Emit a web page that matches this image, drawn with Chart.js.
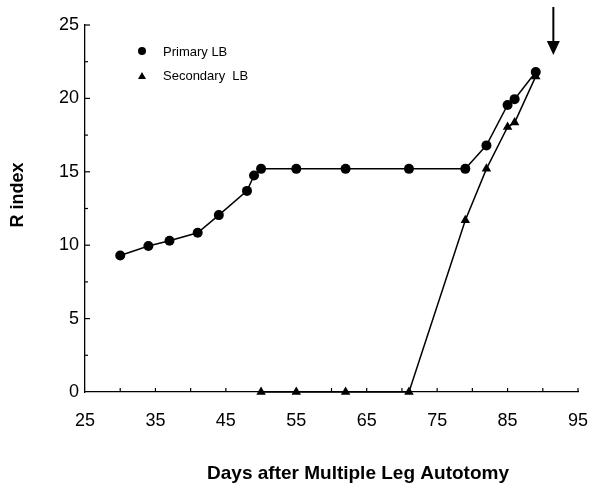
<!DOCTYPE html>
<html>
<head>
<meta charset="utf-8">
<script src="https://cdn.jsdelivr.net/npm/chart.js@4"></script>
<style>
    html, body { margin: 0; padding: 0; background: #fff; }
    #wrap { width: 593px; height: 486px; }
</style>
</head>
<body>
<div id="wrap"><canvas id="chart" width="593" height="486"></canvas></div>
<script>
// Data
const primaryDays = [30, 34, 37, 41, 44, 48, 49, 50, 55, 62, 71, 79, 82, 85, 86, 89];
const primaryR = [9.3, 9.95, 10.3, 10.85, 12.05, 13.7, 14.75, 15.2, 15.2, 15.2, 15.2, 15.2, 16.8, 19.55, 19.95, 21.8];
const secondaryDays = [50, 55, 62, 71, 79, 82, 85, 86, 89];
const secondaryR = [0, 0, 0, 0, 11.7, 15.2, 18.05, 18.35, 21.5];
const seriesNames = ['Primary LB', 'Secondary  LB'];
const xTicks = [25, 35, 45, 55, 65, 75, 85, 95];
const yTicks = [0, 5, 10, 15, 20, 25];
const arrowDay = 91.5;

const toPoints = (xs, ys) => xs.map((x, i) => ({ x: x, y: ys[i] }));

// Inward tick marks, legend, arrow and axis titles
const extras = {
    id: 'extras',
    afterDraw(chart) {
        const ctx = chart.ctx;
        const xs = chart.scales.x;
        const ys = chart.scales.y;
        const area = chart.chartArea;
        ctx.save();
        ctx.strokeStyle = '#000';
        ctx.lineWidth = 1.2;

        // x ticks point up into the plot
        xs.ticks.forEach(t => {
            if (t.value === xs.min) return;
            const px = xs.getPixelForValue(t.value);
            ctx.beginPath();
            ctx.moveTo(px, area.bottom);
            ctx.lineTo(px, area.bottom - 4);
            ctx.stroke();
        });
        // y ticks point right, minor ones shorter
        ys.ticks.forEach(t => {
            if (t.value === ys.min) return;
            const py = ys.getPixelForValue(t.value);
            const len = yTicks.includes(t.value) ? 5 : 3;
            ctx.beginPath();
            ctx.moveTo(area.left, py);
            ctx.lineTo(area.left + len, py);
            ctx.stroke();
        });

        // legend
        ctx.fillStyle = '#000';
        ctx.font = '13px "Liberation Sans", Arial, sans-serif';
        ctx.textBaseline = 'middle';
        ctx.textAlign = 'left';
        const lx = area.left + 57;
        const ly1 = area.top + 26;
        const ly2 = area.top + 51;
        ctx.beginPath();
        ctx.arc(lx, ly1, 4, 0, Math.PI * 2);
        ctx.fill();
        ctx.beginPath();
        ctx.moveTo(lx, ly2 - 4);
        ctx.lineTo(lx + 4, ly2 + 3);
        ctx.lineTo(lx - 4, ly2 + 3);
        ctx.closePath();
        ctx.fill();
        ctx.fillText(seriesNames[0], lx + 21, ly1 + 1);
        ctx.fillText(seriesNames[1], lx + 21, ly2);

        // arrow marking the end point
        const ax = xs.getPixelForValue(arrowDay);
        ctx.lineWidth = 2;
        ctx.beginPath();
        ctx.moveTo(ax, 7);
        ctx.lineTo(ax, 44);
        ctx.stroke();
        ctx.beginPath();
        ctx.moveTo(ax - 6.5, 41);
        ctx.lineTo(ax + 6.5, 41);
        ctx.lineTo(ax, 55);
        ctx.closePath();
        ctx.fill();

        // axis titles
        ctx.font = 'bold 19px "Liberation Sans", Arial, sans-serif';
        ctx.textAlign = 'center';
        ctx.fillText('Days after Multiple Leg Autotomy', 358, 474);
        ctx.translate(18, 195);
        ctx.rotate(-Math.PI / 2);
        ctx.font = 'bold 18px "Liberation Sans", Arial, sans-serif';
        ctx.fillText('R index', 0, 0);
        ctx.restore();
    }
};

const tickFont = { family: '"Liberation Sans", Arial, sans-serif', size: 18 };

new Chart(document.getElementById('chart').getContext('2d'), {
    type: 'scatter',
    data: {
        datasets: [{
            label: seriesNames[0],
            data: toPoints(primaryDays, primaryR),
            showLine: true,
            borderColor: '#000',
            backgroundColor: '#000',
            borderWidth: 1.5,
            pointStyle: 'circle',
            pointRadius: 5,
            pointBorderWidth: 0,
            clip: false
        }, {
            label: seriesNames[1],
            data: toPoints(secondaryDays, secondaryR),
            showLine: true,
            borderColor: '#000',
            backgroundColor: '#000',
            borderWidth: 1.5,
            pointStyle: 'triangle',
            pointRadius: 5.5,
            pointBorderWidth: 0,
            clip: false
        }]
    },
    options: {
        responsive: false,
        animation: false,
        layout: { padding: { left: 0, top: 25, right: 15, bottom: 0 } },
        plugins: { legend: { display: false }, tooltip: { enabled: false } },
        scales: {
            x: {
                type: 'linear',
                min: 25,
                max: 95,
                afterFit: s => {
                    s.height = 94;
                    s.paddingLeft = 0;
                    s.paddingRight = 0;
                },
                grid: { display: false, drawTicks: false },
                border: { display: true, color: '#000', width: 1.3 },
                ticks: {
                    stepSize: 5,
                    autoSkip: false,
                    maxRotation: 0,
                    padding: 18,
                    color: '#000',
                    font: tickFont,
                    callback: v => (xTicks.includes(v) ? v : '')
                }
            },
            y: {
                min: 0,
                max: 25,
                afterFit: s => {
                    s.width = 85;
                    s.paddingTop = 0;
                    s.paddingBottom = 0;
                },
                grid: { display: false, drawTicks: false },
                border: { display: true, color: '#000', width: 1.3 },
                ticks: {
                    stepSize: 2.5,
                    autoSkip: false,
                    padding: 6,
                    color: '#000',
                    font: tickFont,
                    callback: v => (yTicks.includes(v) ? v : '')
                }
            }
        }
    },
    plugins: [extras]
});
</script>
</body>
</html>
